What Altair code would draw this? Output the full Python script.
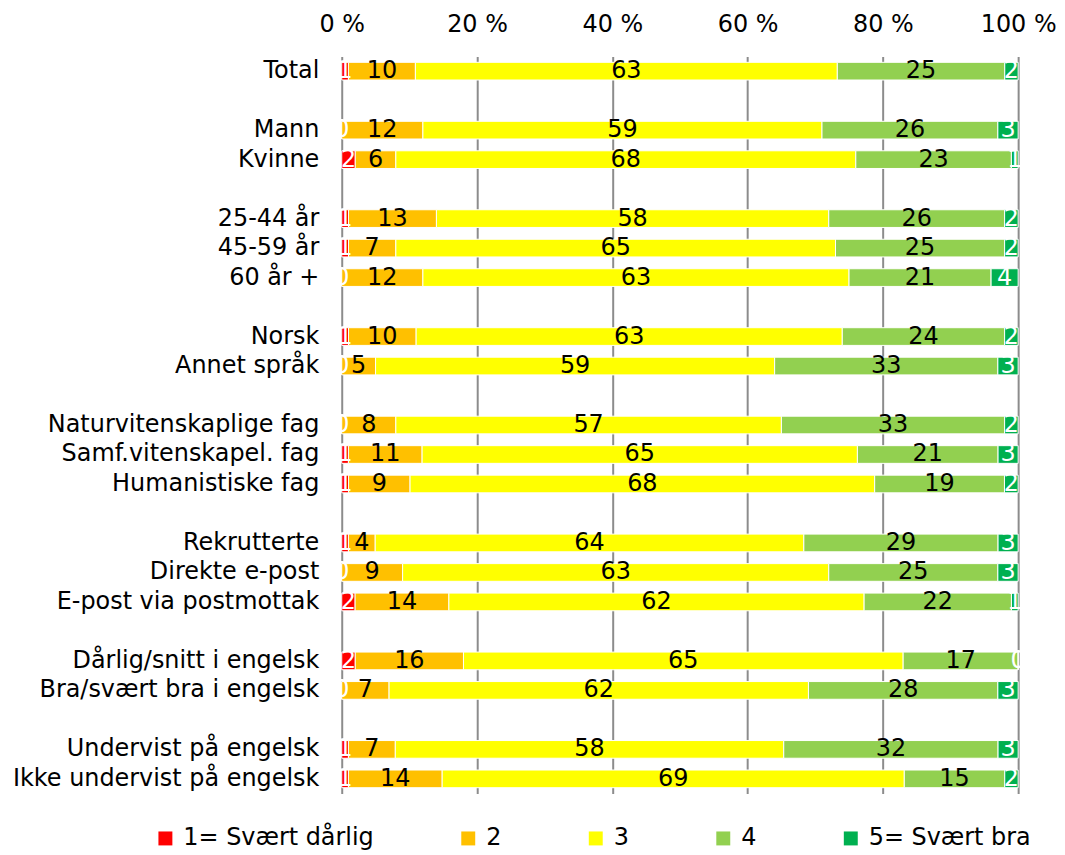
import altair as alt
import pandas as pd

categories = ["Total", "gap1", "Mann", "Kvinne", "gap2", "25-44 år", "45-59 år", "60 år +",
              "gap3", "Norsk", "Annet språk", "gap4", "Naturvitenskaplige fag",
              "Samf.vitenskapel. fag", "Humanistiske fag", "gap5", "Rekrutterte",
              "Direkte e-post", "E-post via postmottak", "gap6", "Dårlig/snitt i engelsk",
              "Bra/svært bra i engelsk", "gap7", "Undervist på engelsk",
              "Ikke undervist på engelsk"]

level_names = ["1= Svært dårlig", "2", "3", "4", "5= Svært bra"]
level_colors = ["#FF0000", "#FFC000", "#FFFF00", "#92D050", "#00B050"]

v1 = {"Total": 1, "Mann": 0, "Kvinne": 2, "25-44 år": 1, "45-59 år": 1, "60 år +": 0,
      "Norsk": 1, "Annet språk": 0, "Naturvitenskaplige fag": 0, "Samf.vitenskapel. fag": 1,
      "Humanistiske fag": 1, "Rekrutterte": 1, "Direkte e-post": 0, "E-post via postmottak": 2,
      "Dårlig/snitt i engelsk": 2, "Bra/svært bra i engelsk": 0, "Undervist på engelsk": 1,
      "Ikke undervist på engelsk": 1}
v2 = {"Total": 10, "Mann": 12, "Kvinne": 6, "25-44 år": 13, "45-59 år": 7, "60 år +": 12,
      "Norsk": 10, "Annet språk": 5, "Naturvitenskaplige fag": 8, "Samf.vitenskapel. fag": 11,
      "Humanistiske fag": 9, "Rekrutterte": 4, "Direkte e-post": 9, "E-post via postmottak": 14,
      "Dårlig/snitt i engelsk": 16, "Bra/svært bra i engelsk": 7, "Undervist på engelsk": 7,
      "Ikke undervist på engelsk": 14}
v3 = {"Total": 63, "Mann": 59, "Kvinne": 68, "25-44 år": 58, "45-59 år": 65, "60 år +": 63,
      "Norsk": 63, "Annet språk": 59, "Naturvitenskaplige fag": 57, "Samf.vitenskapel. fag": 65,
      "Humanistiske fag": 68, "Rekrutterte": 64, "Direkte e-post": 63, "E-post via postmottak": 62,
      "Dårlig/snitt i engelsk": 65, "Bra/svært bra i engelsk": 62, "Undervist på engelsk": 58,
      "Ikke undervist på engelsk": 69}
v4 = {"Total": 25, "Mann": 26, "Kvinne": 23, "25-44 år": 26, "45-59 år": 25, "60 år +": 21,
      "Norsk": 24, "Annet språk": 33, "Naturvitenskaplige fag": 33, "Samf.vitenskapel. fag": 21,
      "Humanistiske fag": 19, "Rekrutterte": 29, "Direkte e-post": 25, "E-post via postmottak": 22,
      "Dårlig/snitt i engelsk": 17, "Bra/svært bra i engelsk": 28, "Undervist på engelsk": 32,
      "Ikke undervist på engelsk": 15}
v5 = {"Total": 2, "Mann": 3, "Kvinne": 1, "25-44 år": 2, "45-59 år": 2, "60 år +": 4,
      "Norsk": 2, "Annet språk": 3, "Naturvitenskaplige fag": 2, "Samf.vitenskapel. fag": 3,
      "Humanistiske fag": 2, "Rekrutterte": 3, "Direkte e-post": 3, "E-post via postmottak": 1,
      "Dårlig/snitt i engelsk": 0, "Bra/svært bra i engelsk": 3, "Undervist på engelsk": 3,
      "Ikke undervist på engelsk": 2}

rows = []
for i, series in enumerate([v1, v2, v3, v4, v5]):
    for cat, val in series.items():
        rows.append({"cat": cat, "lvl": i + 1, "level": level_names[i], "value": val,
                     "tc": "white" if i in (0, 4) else "black"})
df = pd.DataFrame(rows)

FONT = "DejaVu Sans"
FS = 24

y_enc = alt.Y("cat:N", sort=categories,
              scale=alt.Scale(domain=categories, paddingInner=0.4, paddingOuter=0.2),
              axis=alt.Axis(title=None, ticks=False, domain=False, labelFontSize=FS,
                            labelFont=FONT, labelColor="black", labelPadding=23,
                            labelLimit=500,
                            labelExpr="indexof(datum.label, 'gap') == 0 ? '' : datum.label"))

bars = alt.Chart(df).mark_bar(stroke="white", strokeWidth=1).encode(
    x=alt.X("value:Q", stack="normalize",
            scale=alt.Scale(domain=[0, 1], nice=False),
            axis=alt.Axis(orient="top", title=None, values=[0, 0.2, 0.4, 0.6, 0.8, 1.0],
                          labelExpr="round(datum.value*100) + ' %'", labelFontSize=FS,
                          labelFont=FONT, labelColor="black", ticks=False, tickSize=0,
                          domain=False, grid=True, gridColor="#8c8c8c", gridWidth=2,
                          labelPadding=20, labelFlush=False)),
    y=y_enc,
    color=alt.Color("level:N",
                    scale=alt.Scale(domain=level_names, range=level_colors),
                    legend=alt.Legend(title=None, orient="none", direction="horizontal",
                                      legendX=-189, legendY=773, labelFontSize=FS,
                                      labelFont=FONT, labelColor="black",
                                      symbolType="square",
                                      symbolSize=196, symbolStrokeWidth=0,
                                      symbolOpacity=1, labelOffset=6, columnPadding=82,
                                      labelLimit=500, padding=0)),
    order=alt.Order("lvl:Q"),
)

texts = alt.Chart(df).transform_joinaggregate(
    total="sum(value)", groupby=["cat"]
).transform_window(
    cum="sum(value)", groupby=["cat"], sort=[alt.SortField("lvl")], frame=[None, 0]
).transform_calculate(
    mid="(datum.cum - datum.value/2) / datum.total"
).mark_text(fontSize=FS, font=FONT, baseline="middle", align="center").encode(
    x=alt.X("mid:Q", scale=alt.Scale(domain=[0, 1], nice=False)),
    y=alt.Y("cat:N", sort=categories, scale=alt.Scale(domain=categories)),
    text=alt.Text("value:Q"),
    color=alt.Color("tc:N", scale=None),
)

chart = alt.layer(bars, texts).properties(
    width=679, height=740,
    padding={"left": 4, "top": 3, "right": 0, "bottom": 0},
).configure_view(stroke=None).configure_axis(gridOpacity=1)

chart.save("out.html", embed_options={"renderer": "svg", "actions": False})
